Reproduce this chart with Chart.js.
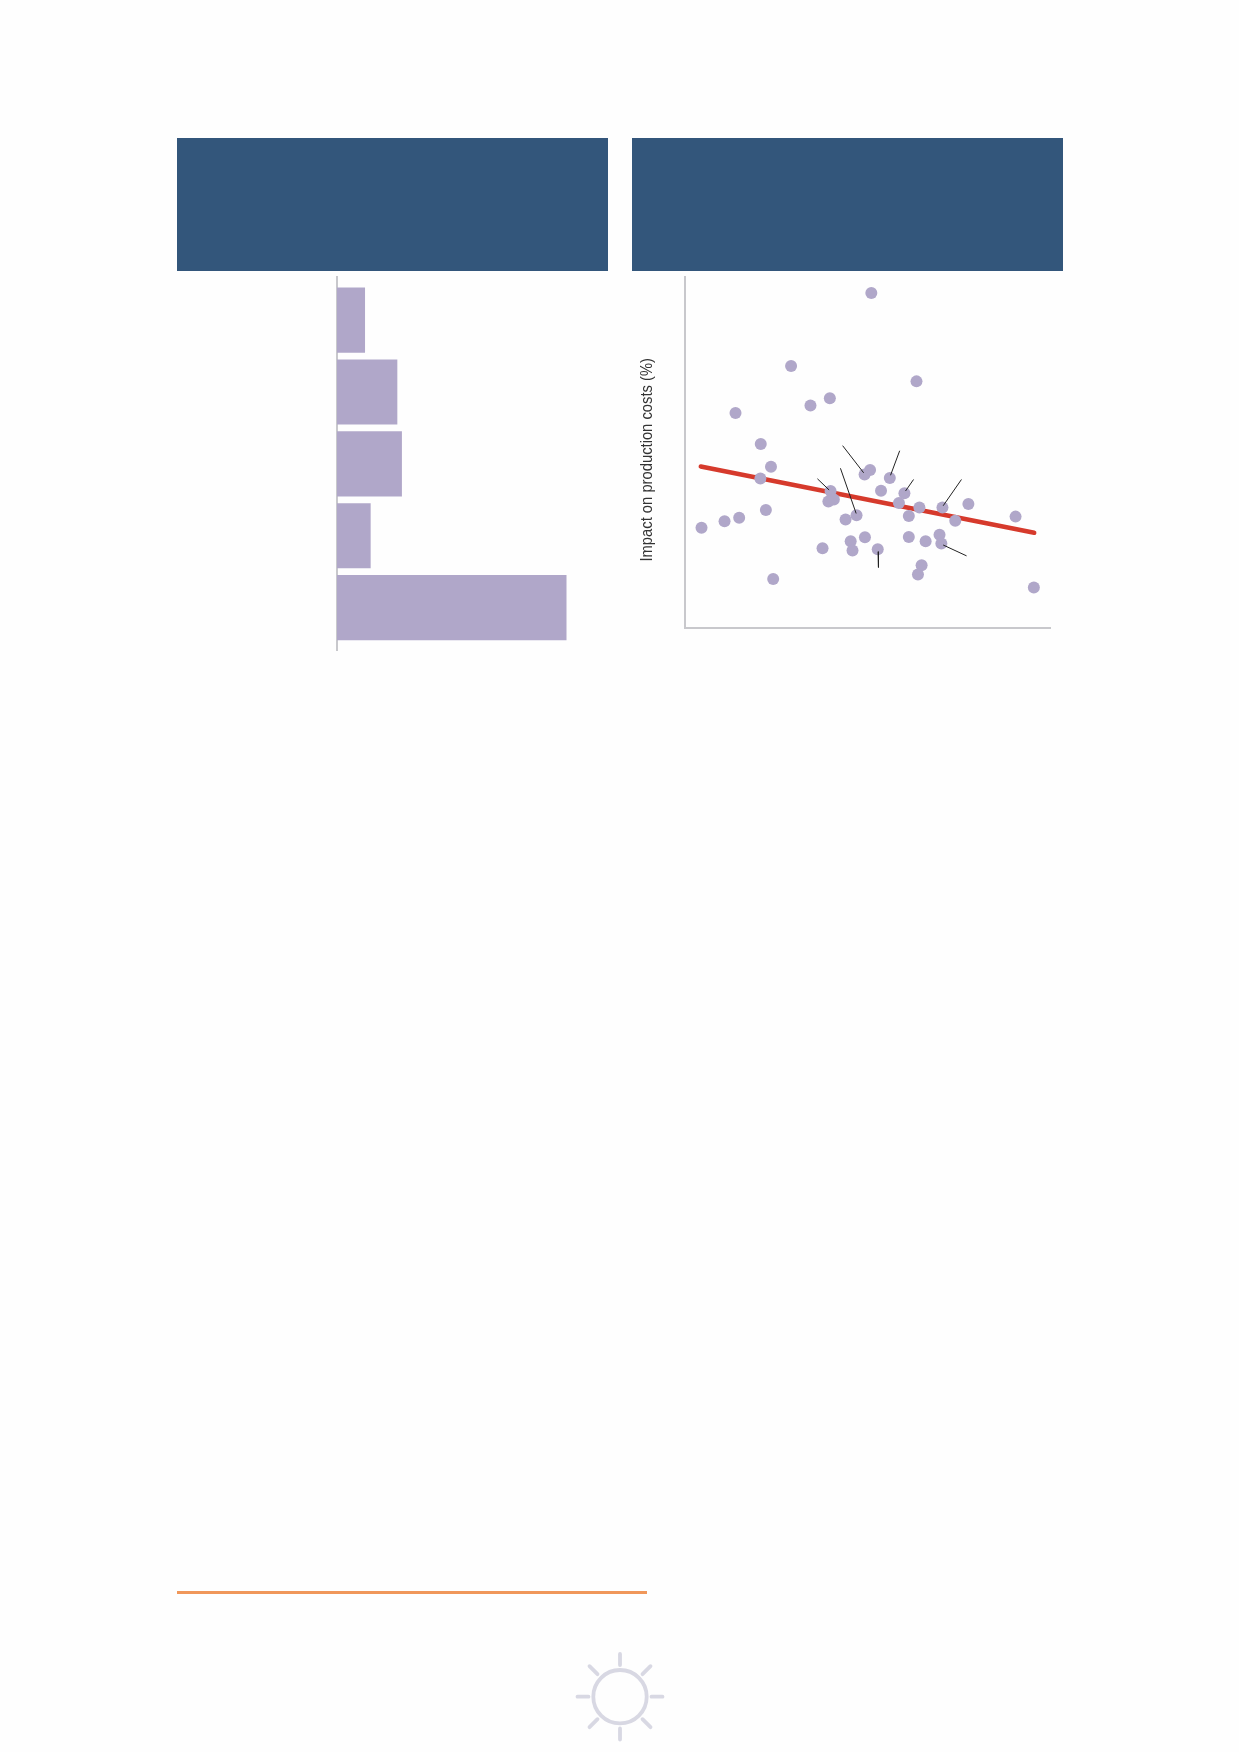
<!DOCTYPE html>
<html><head><meta charset="utf-8">
<script src="https://cdn.jsdelivr.net/npm/chart.js@4"></script>
<style>
html,body{margin:0;padding:0;background:#fefefe;width:1239px;height:1752px;overflow:hidden}
.abs{position:absolute}
canvas{position:absolute}
</style></head><body>
<div class="abs" style="left:177px;top:138px;width:431px;height:133px;background:#33567b"></div>
<div class="abs" style="left:632px;top:138px;width:431px;height:133px;background:#33567b"></div>
<canvas id="bars" width="270" height="385" style="left:330px;top:272px;width:270px;height:385px"></canvas>
<canvas id="scatter" width="431" height="370" style="left:632px;top:268px;width:431px;height:370px"></canvas>
<div class="abs" style="left:177px;top:1591px;width:470px;height:2.6px;background:#f0975a"></div>
<svg class="abs" style="left:570px;top:1640px" width="100" height="112" viewBox="570 1640 100 112">
 <g stroke="#d8d8e3" stroke-width="3.8" fill="none" stroke-linecap="round">
  <circle cx="620" cy="1696.7" r="26.7"/>
  <path d="M620 1654V1665M620 1728.5V1739.5M577.5 1696.7H588.5M651.5 1696.7H662.5M589.5 1666.2L597.5 1674.2M642.5 1674.2L650.5 1666.2M589.5 1727.2L597.5 1719.2M642.5 1719.2L650.5 1727.2"/>
 </g>
</svg>
<script>
const barValues = [6.65, 14.4, 15.5, 8.0, 55.0];
const barPositions = [0, 1, 2, 3, 4];
const pointX = [51.05,29.1,63.4,39.7,34.4,13.9,20.8,23.6,20.7,50.7,49.2,56.1,53.7,60.1,58.6,64.2,70.5,77.6,61.3,74.0,90.5,39.9,40.8,39.3,47.0,44.0,22.2,14.9,10.9,4.6,49.3,45.4,45.9,52.8,37.7,61.3,65.9,69.7,70.2,64.8,63.8,24.2,95.5];
const pointY = [95.5,74.7,70.3,65.5,63.4,61.3,52.4,45.9,42.6,45.0,43.7,42.7,39.1,38.4,35.6,34.3,34.3,35.3,31.9,30.5,31.7,39.0,36.6,36.0,32.1,30.9,33.6,31.4,30.4,28.5,25.8,24.7,22.0,22.4,22.7,25.9,24.7,26.5,24.0,17.8,15.2,13.9,11.5];
const trendX = [4.4, 95.6];
const trendY = [46.0, 27.1];
const leaderX = [[43.2,48.95],[58.8,56.3],[62.6,60.4],[75.7,70.7],[42.6,46.9],[36.3,39.5],[70.7,77.1],[52.9,53.0]];
const leaderY = [[51.95,44.2],[50.5,43.5],[42.3,39.0],[42.3,34.8],[45.5,32.6],[42.5,39.3],[23.6,20.5],[21.7,17.2]];
const yAxisTitle = "Impact on production costs (%)";
const zeroW = s => { s.width = 0; };
const zeroH = s => { s.height = 0; };
const axisColor = "#c8c8cc";
const zip = (xs, ys) => xs.map((x, i) => ({x, y: ys[i]}));

new Chart(document.getElementById("bars"), {
  type: "bar",
  data: { datasets: [{
    data: barValues.map((v, i) => ({x: v, y: barPositions[i]})),
    backgroundColor: "#b0a7c9", barThickness: 64.5
  }]},
  options: {
    indexAxis: "y", responsive: false, animation: false,
    layout: { padding: { left: 7, top: 5, right: 13, bottom: 6.3 } },
    plugins: { legend: {display:false}, tooltip: {enabled:false} },
    scales: {
      x: { type:"linear", display:false, min:0, max:60 },
      y: { type:"linear", reverse:true, offset:false, min:-0.601, max:4.6, afterFit:zeroW,
           grid:{display:false}, ticks:{display:false}, border:{color:axisColor,width:2} }
    }
  }
});

const titlePlugin = { id:"ytitle", afterDraw(c){
  const g=c.ctx; g.save(); g.translate(651.5-632, 459.8-268); g.rotate(-Math.PI/2);
  g.font='17px "Liberation Sans",sans-serif';
  g.scale(203.5/g.measureText(yAxisTitle).width,1);
  g.fillStyle="#333"; g.textAlign="center"; g.textBaseline="alphabetic";
  g.fillText(yAxisTitle,0,0); g.restore();
}};

new Chart(document.getElementById("scatter"), {
  type: "scatter",
  data: { datasets: [
    { data: zip(trendX,trendY), showLine:true, borderColor:"#d63a2c", borderWidth:4.5, borderCapStyle:"round", pointRadius:0, order:3 },
    { data: zip(pointX,pointY), backgroundColor:"#b0a7c9", borderWidth:0, pointRadius:6, order:2 },
    ...leaderX.map((xs,i)=>({ data: zip(xs,leaderY[i]), showLine:true, borderColor:"#222", borderWidth:1, pointRadius:0, order:1 }))
  ]},
  options: {
    responsive:false, animation:false,
    layout:{ padding:{ left:52.7, top:9.3, right:12.7, bottom:10.3 } },
    plugins:{ legend:{display:false}, tooltip:{enabled:false} },
    scales:{
      x:{ type:"linear", min:0, max:100, afterFit:zeroH, grid:{display:false}, ticks:{display:false}, border:{color:axisColor,width:2} },
      y:{ type:"linear", min:0, max:100, afterFit:zeroW, grid:{display:false}, ticks:{display:false}, border:{color:axisColor,width:2} }
    }
  },
  plugins:[titlePlugin]
});
</script>
</body></html>
